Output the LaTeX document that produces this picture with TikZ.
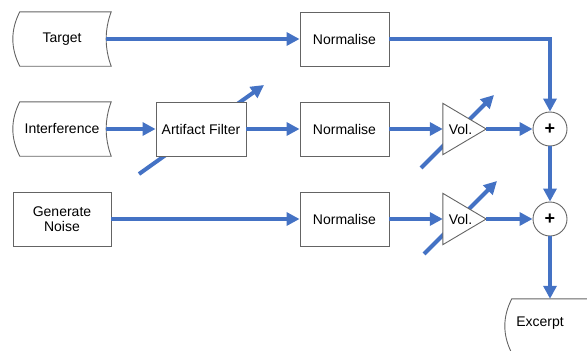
\documentclass[tikz,border=0pt]{standalone}
\usepackage{fontspec}
\setmainfont{Liberation Sans}
\usetikzlibrary{arrows.meta,calc}
\definecolor{flow}{RGB}{68,114,196}
\definecolor{boxline}{RGB}{100,100,100}
% outline of a stored-data symbol around a node: bulging left side, hollow right side
\newcommand\storeoutline[1]{%
  \draw[boxline, line width=0.9pt]
    ($(#1.north west)+(7,0)$) -- (#1.north east)
    .. controls ($(#1.north east)+(-6.7,18)$) and ($(#1.south east)+(-6.7,-18)$) .. (#1.south east)
    -- ($(#1.south west)+(7,0)$)
    .. controls ($(#1.south west)+(-2.3,-18)$) and ($(#1.north west)+(-2.3,18)$) .. cycle;}
\begin{document}
\begin{tikzpicture}[x=1pt,y=-1pt,
  font=\fontsize{14}{15}\selectfont,
  box/.style={draw=boxline, line width=0.9pt, fill=white, minimum width=89pt,
    minimum height=54pt, inner sep=0pt, align=center},
  store/.style={minimum width=98pt, minimum height=54pt, inner sep=0pt, align=center},
  tri/.style={minimum width=43pt, minimum height=51pt, inner sep=0pt},
  flowline/.style={draw=flow, line width=4pt},
  arr/.style={flowline, -{Triangle[length=13pt,width=13pt]}},
  sum/.style={circle, draw=boxline, line width=0.9pt, fill=white, minimum size=34pt,
    inner sep=0pt, font=\fontsize{18}{18}\selectfont\bfseries}]
\useasboundingbox (0,0) rectangle (587,351);

% adjustment arrows passing behind the filter and the volume stages
\coordinate (afA) at (139,174);  \coordinate (afB) at (264,85);
\coordinate (v1A) at (421,168);  \coordinate (v1B) at (494,95);
\coordinate (v2A) at (424,254);  \coordinate (v2B) at (497,181);
\draw[arr] (afA) -- (afB);
\draw[arr] (v1A) -- (v1B);
\draw[arr] (v2A) -- (v2B);

% sources
\node[store] (tgt) at (62,39) {Target};
\storeoutline{tgt}
\node[store] (intf) at (62,129) {Interference};
\storeoutline{intf}
\node[box, minimum width=98pt] (gen) at (62,219) {Generate\\Noise};

% processing stages
\node[box, minimum width=90pt] (af) at (201,129) {Artifact Filter};
\node[box] (n1) at (344.5,39) {Normalise};
\node[box] (n2) at (344.5,129) {Normalise};
\node[box] (n3) at (344.5,219) {Normalise};

% volume stages
\node[tri] (v1) at (464.5,129) {};
\draw[boxline, line width=0.9pt, fill=white] (v1.north west) -- (v1.east) -- (v1.south west) -- cycle;
\node (v1t) at (460.5,129) {Vol.};
\node[tri] (v2) at (464.5,219) {};
\draw[boxline, line width=0.9pt, fill=white] (v2.north west) -- (v2.east) -- (v2.south west) -- cycle;
\node (v2t) at (460.5,219) {Vol.};

% mixers
\node[sum] (s1) at (550,129) {+};
\node[sum] (s2) at (550,219) {+};

% output
\begin{scope}
  \clip (0,0) rectangle (587,351);
  \node[store] (exc) at (554,326) {};
  \storeoutline{exc}
\end{scope}
\node (exct) at (540,323) {Excerpt};

% signal flow
\draw[arr] ($(tgt.east)+(-5,0)$) -- (n1);
\draw[arr] (n1.east) -| (s1.north);
\draw[arr] ($(intf.east)+(-5,0)$) -- (af);
\draw[arr] (af) -- (n2);
\draw[arr] (n2) -- (v1.west);
\draw[arr] (v1.east) -- (s1);
\draw[arr] (gen) -- (n3);
\draw[arr] (n3) -- (v2.west);
\draw[arr] (v2.east) -- (s2);
\draw[arr] (s1) -- (s2);
\draw[arr] (s2.south) -- (s2.south |- exc.north);
\end{tikzpicture}
\end{document}
